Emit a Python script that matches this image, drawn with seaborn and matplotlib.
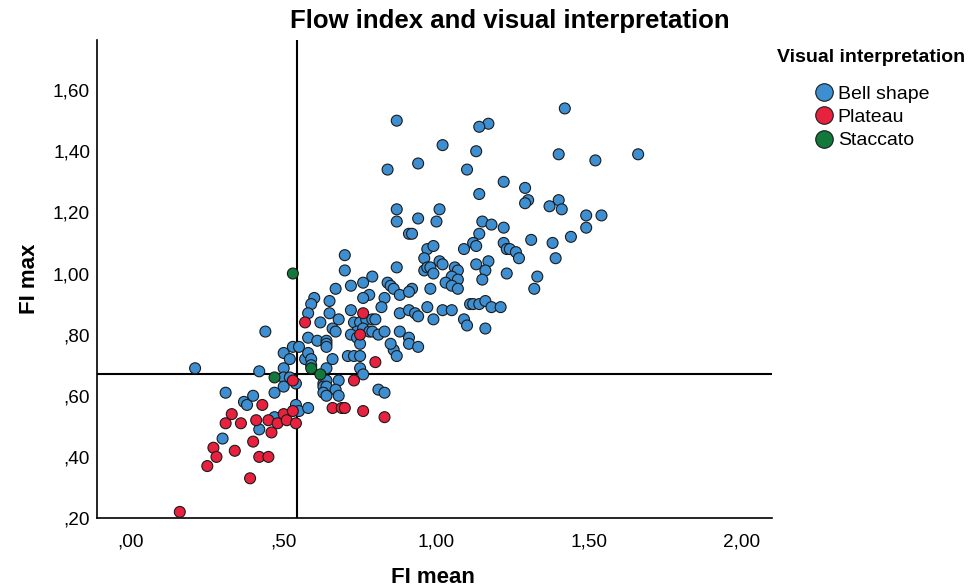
import pandas as pd
import matplotlib
matplotlib.use("Agg")
import matplotlib.pyplot as plt
from matplotlib.ticker import FuncFormatter
import seaborn as sns

# Values (FI mean, FI max) per interpretation
bell_x = [0.21, 0.30, 0.31, 0.37, 0.38, 0.40, 0.42, 0.42, 0.47, 0.47, 0.50, 0.50, 0.50, 0.52, 0.50,
          0.52, 0.54, 0.54, 0.55, 0.58, 0.44, 0.53, 0.55, 0.57, 0.58, 0.59, 0.59, 0.64, 0.63, 0.64,
          0.68, 0.63, 0.64, 0.67, 0.63, 0.64, 0.68, 0.66, 0.71, 0.73, 0.75, 0.75, 0.76, 0.81, 0.83,
          0.86, 0.87, 0.70, 0.70, 0.87, 0.79, 0.84, 0.85, 0.72, 0.76, 0.86, 0.67, 0.78, 0.88, 0.60,
          0.65, 0.76, 0.83, 0.59, 0.82, 0.72, 0.88, 0.58, 0.65, 0.62, 0.68, 0.73, 0.75, 0.77, 0.79,
          0.80, 0.66, 0.67, 0.74, 0.76, 0.72, 0.74, 0.75, 0.78, 0.79, 0.81, 0.83, 0.58, 0.61, 0.64,
          0.64, 0.64, 0.85, 0.88, 0.91, 0.91, 0.94, 0.91, 0.93, 0.94, 0.97, 1.02, 1.05, 0.99, 1.09,
          1.10, 1.11, 1.12, 1.14, 1.16, 1.18, 1.21, 1.16, 0.91, 0.92, 1.14, 1.12, 1.13, 1.09, 0.97,
          0.99, 0.96, 1.01, 1.02, 0.96, 0.97, 0.98, 0.99, 1.06, 1.07, 1.05, 1.07, 1.13, 1.17, 1.16,
          1.15, 0.92, 0.91, 0.98, 1.03, 1.05, 1.07, 1.23, 0.87, 1.17, 1.14, 1.02, 1.13, 0.94, 0.84,
          1.10, 1.22, 1.29, 1.14, 1.30, 1.29, 0.87, 0.87, 0.94, 1.01, 1.00, 1.15, 1.18, 1.22, 1.22,
          1.23, 1.24, 1.26, 1.27, 1.31, 1.42, 1.40, 1.52, 1.66, 1.40, 1.37, 1.41, 1.49, 1.54, 1.49,
          1.44, 1.38, 1.39, 1.33, 1.32]
bell_y = [0.69, 0.46, 0.61, 0.58, 0.57, 0.60, 0.49, 0.68, 0.53, 0.61, 0.69, 0.66, 0.63, 0.66, 0.74,
          0.72, 0.64, 0.57, 0.55, 0.56, 0.81, 0.76, 0.76, 0.72, 0.74, 0.72, 0.70, 0.69, 0.64, 0.65,
          0.65, 0.63, 0.63, 0.62, 0.61, 0.60, 0.60, 0.72, 0.73, 0.73, 0.73, 0.69, 0.67, 0.62, 0.61,
          0.75, 0.73, 1.06, 1.01, 1.02, 0.99, 0.97, 0.96, 0.96, 0.97, 0.95, 0.95, 0.93, 0.93, 0.92,
          0.91, 0.92, 0.92, 0.90, 0.89, 0.88, 0.87, 0.87, 0.87, 0.84, 0.85, 0.84, 0.84, 0.85, 0.85,
          0.85, 0.82, 0.81, 0.81, 0.82, 0.80, 0.79, 0.77, 0.81, 0.81, 0.80, 0.81, 0.79, 0.78, 0.78,
          0.77, 0.76, 0.77, 0.81, 0.79, 0.77, 0.76, 0.88, 0.87, 0.86, 0.89, 0.88, 0.88, 0.85, 0.85,
          0.83, 0.90, 0.90, 0.90, 0.91, 0.89, 0.89, 0.82, 1.13, 1.13, 1.13, 1.10, 1.09, 1.08, 1.08,
          1.09, 1.05, 1.04, 1.03, 1.01, 1.02, 1.02, 1.00, 1.02, 1.01, 0.99, 0.98, 1.03, 1.04, 1.01,
          0.98, 0.95, 0.94, 0.95, 0.97, 0.96, 0.95, 1.00, 1.50, 1.49, 1.48, 1.42, 1.40, 1.36, 1.34,
          1.34, 1.30, 1.28, 1.26, 1.24, 1.23, 1.21, 1.17, 1.18, 1.21, 1.17, 1.17, 1.16, 1.15, 1.10,
          1.08, 1.08, 1.07, 1.05, 1.11, 1.54, 1.39, 1.37, 1.39, 1.24, 1.22, 1.21, 1.19, 1.19, 1.15,
          1.12, 1.10, 1.05, 0.99, 0.95]

plateau_x = [0.16, 0.25, 0.27, 0.28, 0.31, 0.33, 0.34, 0.36, 0.39, 0.40, 0.41, 0.42, 0.43, 0.45,
             0.45, 0.46, 0.48, 0.50, 0.51, 0.53, 0.54, 0.53, 0.66, 0.69, 0.70, 0.76, 0.83, 0.73,
             0.80, 0.75, 0.76, 0.57]
plateau_y = [0.22, 0.37, 0.43, 0.40, 0.51, 0.54, 0.42, 0.51, 0.33, 0.45, 0.52, 0.40, 0.57, 0.52,
             0.40, 0.48, 0.51, 0.54, 0.52, 0.55, 0.51, 0.65, 0.56, 0.56, 0.56, 0.55, 0.53, 0.65,
             0.71, 0.80, 0.87, 0.84]

staccato_x = [0.53, 0.47, 0.59, 0.62]
staccato_y = [1.00, 0.66, 0.69, 0.67]

categories = ["Bell shape", "Plateau", "Staccato"]
colors = ["#3d8fd1", "#e8213e", "#10793b"]

# reference lines
ref_x = 0.5425
ref_y = 0.671

df = pd.concat([
    pd.DataFrame({"FI mean": bell_x, "FI max": bell_y, "Visual interpretation": categories[0]}),
    pd.DataFrame({"FI mean": plateau_x, "FI max": plateau_y, "Visual interpretation": categories[1]}),
    pd.DataFrame({"FI mean": staccato_x, "FI max": staccato_y, "Visual interpretation": categories[2]}),
], ignore_index=True)

sns.set_style("white")
plt.rcParams["font.family"] = ["Liberation Sans", "DejaVu Sans"]
plt.rcParams["text.color"] = "black"
plt.rcParams["axes.labelcolor"] = "black"

fig = plt.figure(figsize=(9.68, 5.88), dpi=100)
ax = fig.add_axes([0.1002, 0.119, 0.6973, 0.813])

sns.scatterplot(data=df, x="FI mean", y="FI max", hue="Visual interpretation",
                hue_order=categories, palette=dict(zip(categories, colors)),
                s=62, edgecolor="#1a1a1a", linewidth=0.8, alpha=1, ax=ax, zorder=3)

ax.axvline(ref_x, color="black", lw=1.5, zorder=2)
ax.axhline(ref_y, color="black", lw=1.5, zorder=2)

ax.set_xlim(-0.111, 2.098)
ax.set_ylim(0.2, 1.764)
ax.set_xticks([0, 0.5, 1.0, 1.5, 2.0])
ax.set_yticks([0.2, 0.4, 0.6, 0.8, 1.0, 1.2, 1.4, 1.6])


def spss_fmt(v, pos):
    s = f"{v:.2f}".replace(".", ",")
    return s[1:] if s.startswith("0") else s


ax.xaxis.set_major_formatter(FuncFormatter(spss_fmt))
ax.yaxis.set_major_formatter(FuncFormatter(spss_fmt))
ax.tick_params(axis="both", length=0, labelsize=13.7, colors="black")
ax.tick_params(axis="x", pad=11)
ax.tick_params(axis="y", pad=5)

for side in ["top", "right"]:
    ax.spines[side].set_visible(False)
for side in ["left", "bottom"]:
    ax.spines[side].set_color("black")
    ax.spines[side].set_linewidth(1.2)

ax.set_xlabel("FI mean", fontsize=16, fontweight="bold")
ax.set_ylabel("FI max", fontsize=16, fontweight="bold")
ax.xaxis.set_label_coords(0.498, -0.103)
ax.yaxis.set_label_coords(-0.085, 0.50)

fig.text(0.527, 0.965, "Flow index and visual interpretation", ha="center", va="center",
         fontsize=18.5, fontweight="bold")

# legend title drawn separately so the gap to the entries can match
fig.text(777 / 968, 1 - 58 / 588, "Visual interpretation", ha="left", va="center",
         fontsize=14, fontweight="bold")
sns.move_legend(ax, loc="upper left", bbox_to_anchor=(0.8312, 0.872), bbox_transform=fig.transFigure,
                frameon=False, title=None, fontsize=14, markerscale=1.6,
                handlelength=0.95, handletextpad=0.25, labelspacing=0.3, borderpad=0.0)

fig.savefig("out.png", dpi=100)
